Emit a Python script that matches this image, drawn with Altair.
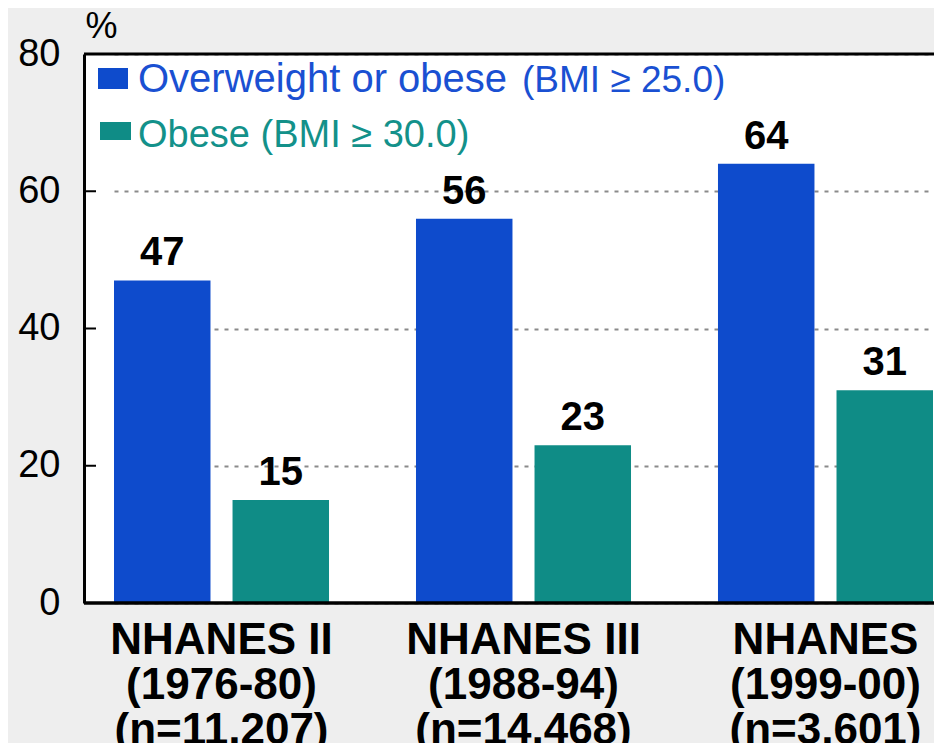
import altair as alt
import pandas as pd

# ---- data ----
groups = ["NHANES II|(1976-80)|(n=11,207)",
          "NHANES III|(1988-94)|(n=14,468)",
          "NHANES|(1999-00)|(n=3,601)"]
series = ["Overweight or obese", "Obese"]
overweight = [47, 56, 64]
obese = [15, 23, 31]
y_ticks = [0, 20, 40, 60, 80]
inner_ticks = [20, 40, 60]

BLUE = "#0e4bcc"
TEAL = "#0f8c86"
BLUE_TXT = "#1a50d2"
TEAL_TXT = "#13918a"
FONT = "Liberation Sans"

rows = []
for g, a, b in zip(groups, overweight, obese):
    rows.append({"group": g, "series": series[0], "value": a})
    rows.append({"group": g, "series": series[1], "value": b})
df = pd.DataFrame(rows)

xscale = alt.Scale(domain=groups, range=[30, 849], paddingInner=0.288, paddingOuter=0)
yscale = alt.Scale(domain=[0, 80], nice=False)

x_enc = alt.X(
    "group:N", scale=xscale, sort=groups,
    axis=alt.Axis(title=None, domain=False, ticks=False, labelAngle=0,
                  labelExpr="split(datum.label, '|')", labelFontSize=44,
                  labelFontWeight="bold", labelColor="black", labelLineHeight=45,
                  labelPadding=15, labelFont=FONT, labelBaseline="top",
                  labelLimit=500, labelOverlap=False),
)
y_enc = alt.Y(
    "value:Q", scale=yscale,
    axis=alt.Axis(values=y_ticks, title="%", titleAngle=0, titleX=17, titleY=-28,
                  titleAlign="center", titleBaseline="middle", titleFontSize=36,
                  titleFontWeight="normal", titleColor="black", titleFont=FONT,
                  labelFontSize=38, labelColor="black", labelFont=FONT,
                  labelPadding=24, ticks=False, domainColor="black", domainWidth=3,
                  grid=True, gridColor="#8a8a8a", gridDash=[4, 6], gridWidth=2),
)
xoff = alt.XOffset("series:N", sort=series,
                   scale=alt.Scale(domain=series, paddingInner=0.186, paddingOuter=0))
color = alt.Color("series:N", scale=alt.Scale(domain=series, range=[BLUE, TEAL]), legend=None)

base = alt.Chart(df)
bars = base.mark_bar().encode(x=x_enc, y=y_enc, xOffset=xoff, color=color)
labels = base.mark_text(fontSize=40, fontWeight="bold", baseline="alphabetic", dy=-15,
                        font=FONT, color="black").encode(
    x=alt.X("group:N", scale=xscale, sort=groups),
    xOffset=xoff, y=alt.Y("value:Q", scale=yscale), text="value:Q")

one = pd.DataFrame({"k": [0]})
top_border = alt.Chart(one).mark_rule(color="black", strokeWidth=3).encode(y=alt.datum(80))
bottom_border = alt.Chart(one).mark_rule(color="black", strokeWidth=3.5).encode(y=alt.datum(0))
tick_df = pd.DataFrame({"t": inner_ticks})
tick_rules = alt.Chart(tick_df).mark_rule(color="black", strokeWidth=2).encode(
    y="t:Q", x=alt.value(0), x2=alt.value(12))

# legend (drawn manually, since the first entry mixes two font sizes)
leg_sw1 = alt.Chart(one).mark_rect(color=BLUE).encode(
    x=alt.value(14), x2=alt.value(44), y=alt.value(14), y2=alt.value(35))
leg_sw2 = alt.Chart(one).mark_rect(color=TEAL).encode(
    x=alt.value(16), x2=alt.value(47), y=alt.value(68), y2=alt.value(86))
leg_t1 = alt.Chart(one).mark_text(font=FONT, fontSize=40, color=BLUE_TXT, align="left",
                                  baseline="alphabetic").encode(
    x=alt.value(54), y=alt.value(38), text=alt.value("Overweight or obese"))
leg_t1b = alt.Chart(one).mark_text(font=FONT, fontSize=37, color=BLUE_TXT, align="left",
                                   baseline="alphabetic").encode(
    x=alt.value(438), y=alt.value(38), text=alt.value("(BMI \u2265 25.0)"))
leg_t2 = alt.Chart(one).mark_text(font=FONT, fontSize=38, color=TEAL_TXT, align="left",
                                  baseline="alphabetic").encode(
    x=alt.value(54), y=alt.value(93), text=alt.value("Obese (BMI \u2265 30.0)"))

chart = alt.layer(
    bars, labels, tick_rules, top_border, bottom_border,
    leg_sw1, leg_sw2, leg_t1, leg_t1b, leg_t2,
).properties(
    width=850, height=549,
    autosize=alt.AutoSizeParams(type="none"),
    padding={"left": 76, "top": 46, "right": 0, "bottom": 140},
    background="#eeeeee",
).configure_view(fill="white", stroke=None)

chart.save("out.html", embed_options={"renderer": "svg", "actions": False})
